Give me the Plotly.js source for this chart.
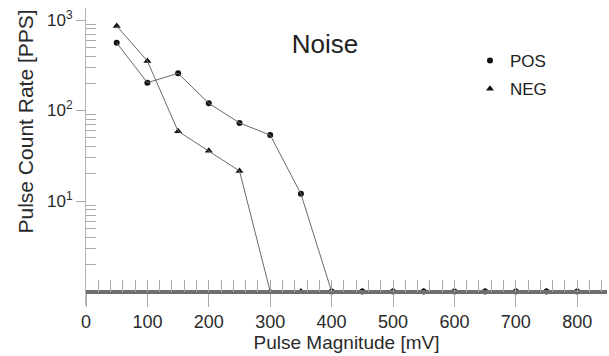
<!DOCTYPE html>
<html><head><meta charset="utf-8">
<script src="https://cdn.plot.ly/plotly-3.0.1.min.js"></script>
<style>html,body{margin:0;padding:0;background:#fff}#chart{width:609px;height:356px}</style>
</head><body><div id="chart"></div>
<script>
// ---- data ----
const magnitudes = [50,100,150,200,250,300,350,400,450,500,550,600,650,700,750,800];
const posRate    = [560,203,258,120,73,53.5,12,1,1,1,1,1,1,1,1,1];
const negRate    = [860,352,59,36,21.5,1,1,1,1,1,1,1,1,1,1,1];
const seriesNames = ['POS','NEG'];
const yTickVals = [10,100,1000];
const yTickText = ['10<sup>1</sup>','10<sup>2</sup>','10<sup>3</sup>'];
const yMinorVals = [2,3,4,5,6,7,8,9,20,30,40,50,60,70,80,90,200,300,400,500,600,700,800,900];
const chartTitle = 'Noise';
const xTitle = 'Pulse Magnitude [mV]';
const yTitle = 'Pulse Count Rate [PPS]';

const FONT = '"Liberation Sans", Arial, sans-serif';
const yRange = [-0.149, 3.133];
const xRange = [0, 848.5];
const basePos = (0 - yRange[0]) / (yRange[1] - yRange[0]);

const lineStyle = {color:'#6a6a6a', width:1};
const traces = [
  {x: magnitudes, y: posRate, xaxis:'x2', mode:'lines', line: lineStyle, showlegend:false, hoverinfo:'skip'},
  {x: magnitudes, y: negRate, xaxis:'x2', mode:'lines', line: lineStyle, showlegend:false, hoverinfo:'skip'},
  {x: magnitudes, y: posRate, mode:'markers', name: seriesNames[0], legendgroup:'a',
   marker:{symbol:'circle', size:6, color:'#111'}},
  {x: magnitudes, y: negRate, mode:'markers', name: seriesNames[1], legendgroup:'b',
   marker:{symbol:'triangle-up', size:7, color:'#111'}}
];

const layout = {
  width:609, height:356,
  margin:{l:86, r:2, t:8, b:51},
  paper_bgcolor:'#fff', plot_bgcolor:'#fff',
  font:{family:FONT, color:'#2a2a2a', size:18},
  showlegend:true,
  title:{text:chartTitle, font:{family:FONT, size:26, color:'#222'},
         x:325/609, xanchor:'center', xref:'container', y:1-44/356, yanchor:'middle', yref:'container'},
  legend:{x:(470-86)/521, xanchor:'left', y:1-(43-8)/297, yanchor:'top', bgcolor:'rgba(0,0,0,0)',
          font:{family:FONT, size:17, color:'#222'}, tracegroupgap:3, itemwidth:30},
  xaxis:{range:xRange, anchor:'free', position:basePos, dtick:100, tick0:0,
         showline:true, linewidth:4, linecolor:'#6e6e6e', showgrid:false, zeroline:false,
         ticks:'outside', ticklen:13, tickwidth:1, tickcolor:'#aaa',
         tickfont:{family:FONT, size:18, color:'#2a2a2a'},
         title:{text:xTitle, font:{family:FONT, size:19, color:'#2a2a2a'}, standoff:4}},
  xaxis2:{range:xRange, overlaying:'x', anchor:'free', position:basePos, dtick:20, tick0:0,
          showline:false, showgrid:false, zeroline:false, showticklabels:false,
          ticks:'inside', ticklen:12, tickwidth:1, tickcolor:'#aaa'},
  yaxis:{type:'log', range:yRange, tickmode:'array', tickvals:yTickVals, ticktext:yTickText,
         showline:true, linewidth:1, linecolor:'#b5b5b5', showgrid:false, zeroline:false,
         ticks:'outside', ticklen:9, tickwidth:1, tickcolor:'#aaa',
         tickfont:{family:FONT, size:17, color:'#2a2a2a'},
         minor:{tickmode:'array', tickvals:yMinorVals, ticks:'inside', ticklen:10, tickwidth:1, tickcolor:'#aaa', showgrid:false}},
  annotations:[{text:yTitle, textangle:-90, xref:'paper', yref:'paper',
                x:(25-86)/521, y:1-(121.5-8)/297, xanchor:'center', yanchor:'middle', showarrow:false,
                font:{family:FONT, size:21, color:'#2a2a2a'}}]
};

Plotly.newPlot('chart', traces, layout, {displayModeBar:false, staticPlot:true});
</script>
</body></html>
